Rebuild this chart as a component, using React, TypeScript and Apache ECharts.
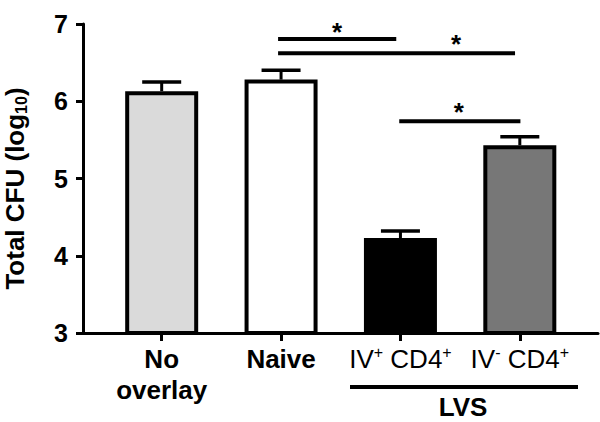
import React, { useEffect, useRef } from "react";
import * as echarts from "echarts";

const categories = ["No\noverlay", "Naive", "IV+ CD4+", "IV- CD4+"];
const means = [6.13, 6.28, 4.23, 5.43];
const upperErr = [6.25, 6.4, 4.32, 5.54];
const barColors = ["#dadada", "#ffffff", "#000000", "#777777"];
const yTicks = [3, 4, 5, 6, 7];
// significance brackets: [from x, to x, y]
const sigLines = [
  [0.975, 1.965, 6.805],
  [0.975, 2.96, 6.62],
  [1.99, 3.005, 5.74],
];
// stars: [x, y]
const stars = [
  [1.469, 6.9],
  [2.465, 6.74],
  [2.49, 5.86],
];
const groupLabel = "LVS";

const FONT = "'Liberation Sans', Arial, Helvetica, sans-serif";

export default function App() {
  const ref = useRef<HTMLDivElement>(null);
  useEffect(() => {
    const chart = echarts.init(ref.current!, null, { renderer: "svg" });
    const option: any = {
      animation: false,
      grid: [
        { left: 102, right: 20.5, top: 24, bottom: 89, containLabel: false, outerBoundsMode: "none" },
        { left: 83, right: 2, top: 24, bottom: 89, containLabel: false, outerBoundsMode: "none" },
      ],
      xAxis: [
        {
          type: "category",
          gridIndex: 0,
          data: categories,
          axisLine: { show: false, onZero: false },
          axisTick: { show: true, alignWithLabel: true, length: 8, lineStyle: { color: "#000", width: 3 } },
          axisLabel: {
            margin: 10,
            interval: 0,
            color: "#000",
            fontFamily: FONT,
            fontSize: 26,
            fontWeight: "bold",
            lineHeight: 31,
            formatter: (v: string) => {
              if (v.startsWith("IV")) {
                const sign = v.charAt(2);
                return `{n|IV}{s|${sign === "-" ? "-" : "+"}}{n| CD4}{s|+}`;
              }
              return v;
            },
            rich: {
              n: { fontFamily: FONT, fontSize: 26, fontWeight: "normal", color: "#000", lineHeight: 31 },
              s: { fontFamily: FONT, fontSize: 16, fontWeight: "normal", color: "#000", padding: [0, 0, 13, 0], lineHeight: 31 },
            },
          },
        },
        {
          type: "value",
          gridIndex: 0,
          min: -0.5,
          max: 3.5,
          show: false,
          axisLine: { onZero: false },
        },
        {
          type: "value",
          gridIndex: 1,
          min: 0,
          max: 1,
          axisLine: { show: true, onZero: false, lineStyle: { color: "#000", width: 3 } },
          axisTick: { show: false },
          axisLabel: { show: false },
          splitLine: { show: false },
        },
      ],
      yAxis: [
        {
          type: "value",
          gridIndex: 0,
          min: yTicks[0],
          max: yTicks[yTicks.length - 1],
          interval: 1,
          offset: 19,
          axisLine: { show: true, onZero: false, lineStyle: { color: "#000", width: 3 } },
          axisTick: { show: true, length: 7, lineStyle: { color: "#000", width: 3 } },
          splitLine: { show: false },
          axisLabel: {
            margin: 15,
            color: "#000",
            fontFamily: FONT,
            fontSize: 25,
            fontWeight: "bold",
          },
          name: "{t|Total CFU (log}{b|10}{t|)}",
          nameLocation: "middle",
          nameGap: 54,
          nameRotate: 90,
          nameTextStyle: {
            padding: [0, 20, 0, 0],
            rich: {
              t: { fontFamily: FONT, fontSize: 26, fontWeight: "bold", color: "#000" },
              b: { fontFamily: FONT, fontSize: 16, fontWeight: "bold", color: "#000", padding: [12, 0, 0, 0] },
            },
          },
        },
        { type: "value", gridIndex: 1, show: false, min: 0, max: 1, axisLine: { onZero: false } },
      ],
      series: [
        {
          type: "bar",
          xAxisIndex: 0,
          yAxisIndex: 0,
          barWidth: 73,
          data: means.map((v, i) => ({
            value: v,
            itemStyle: { color: barColors[i], borderColor: "#000", borderWidth: 4 },
          })),
          z: 2,
        },
        {
          type: "custom",
          xAxisIndex: 1,
          yAxisIndex: 0,
          data: means.map((v, i) => [i, v, upperErr[i]]),
          z: 3,
          renderItem: (params: any, api: any) => {
            const i = api.value(0);
            const base = api.coord([i, api.value(1)]);
            const top = api.coord([i, api.value(2)]);
            return {
              type: "group",
              children: [
                {
                  type: "rect",
                  shape: { x: top[0] - 1.5, y: top[1], width: 3, height: base[1] - top[1] },
                  style: { fill: "#000" },
                },
                {
                  type: "rect",
                  shape: { x: top[0] - 19.5, y: top[1] - 1.75, width: 39, height: 3.5 },
                  style: { fill: "#000" },
                },
              ],
            };
          },
        },
        {
          type: "custom",
          xAxisIndex: 1,
          yAxisIndex: 0,
          data: sigLines,
          z: 4,
          renderItem: (params: any, api: any) => {
            const a = api.coord([api.value(0), api.value(2)]);
            const b = api.coord([api.value(1), api.value(2)]);
            return {
              type: "line",
              shape: { x1: a[0], y1: a[1], x2: b[0], y2: b[1] },
              style: { stroke: "#000", lineWidth: 4 },
            };
          },
        },
        {
          type: "custom",
          xAxisIndex: 1,
          yAxisIndex: 0,
          data: stars,
          z: 5,
          renderItem: (params: any, api: any) => {
            const p = api.coord([api.value(0), api.value(1)]);
            return {
              type: "text",
              x: p[0],
              y: p[1],
              style: {
                text: "*",
                fill: "#000",
                font: `bold 26px ${FONT}`,
                textAlign: "center",
                textVerticalAlign: "middle",
              },
            };
          },
        },
      ],
      graphic: [
        {
          type: "line",
          shape: { x1: 350, y1: 387, x2: 578, y2: 387 },
          style: { stroke: "#000", lineWidth: 4 },
        },
        {
          type: "text",
          x: 463,
          y: 407,
          style: {
            text: groupLabel,
            fill: "#000",
            font: `bold 26px ${FONT}`,
            textAlign: "center",
            textVerticalAlign: "middle",
          },
        },
      ],
    };
    chart.setOption(option);
    return () => chart.dispose();
  }, []);
  return <div ref={ref} style={{ width: 600, height: 422, position: "absolute", left: 0, top: 0 }} />;
}
